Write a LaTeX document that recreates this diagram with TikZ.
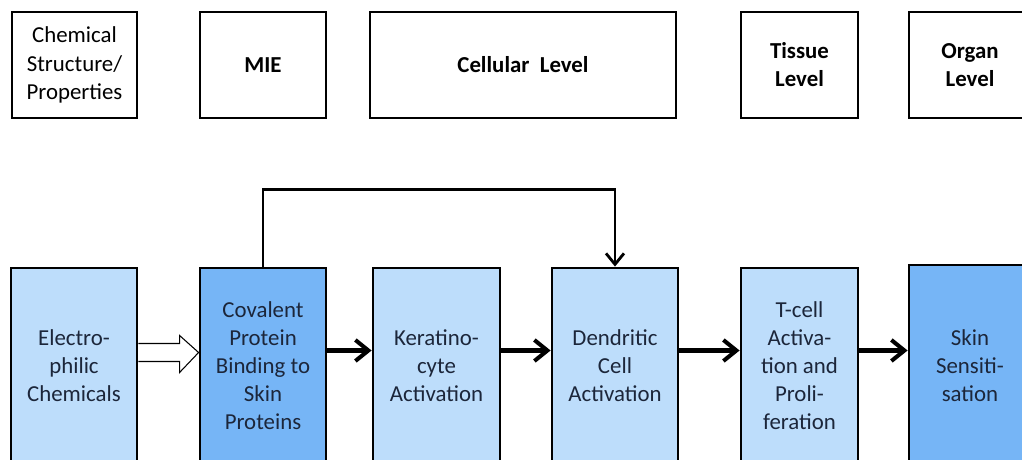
\documentclass[tikz,border=0pt]{standalone}
\usepackage{fontspec}
\setmainfont{Carlito}
\usepackage{xcolor}
\usepackage{tikz}
\usetikzlibrary{arrows.meta, positioning, calc}
\definecolor{stagelight}{RGB}{189, 221, 251}
\definecolor{stagedark}{RGB}{118, 181, 246}
\definecolor{stagetext}{RGB}{28, 38, 58}

\begin{document}
\begin{tikzpicture}[
    levelbox/.style={draw=black, line width=1.6pt, fill=white, minimum height=2.12cm,
                     align=center, font=\fontsize{13}{16}\selectfont},
    stagebox/.style={draw=black, line width=1.6pt, fill=stagelight, minimum height=3.9cm,
                     align=center, text=stagetext, font=\fontsize{13}{16}\selectfont},
    flowarrow/.style={line width=2.3pt, -{Straight Barb[length=2.6mm, width=4.2mm]}}
  ]
  \clip (0,0) rectangle (20.44,9.18);
  % level headings
  \node[levelbox, minimum width=2.5cm]  (chem)   at ( 1.49,7.88) {Chemical\\Structure/\\Properties};
  \node[levelbox, minimum width=2.52cm] (mie)    at ( 5.26,7.88) {\textbf{MIE}};
  \node[levelbox, minimum width=6.12cm] (cell)   at (10.46,7.88) {\textbf{Cellular\ \ Level}};
  \node[levelbox, minimum width=2.34cm] (tissue) at (15.99,7.88) {\textbf{Tissue}\\\textbf{Level}};
  \node[levelbox, minimum width=2.44cm] (organ)  at (19.40,7.88) {\textbf{Organ}\\\textbf{Level}};
  % key events
  \node[stagebox, minimum width=2.52cm] (elec)  at ( 1.48,1.87) {Electro-\\philic\\Chemicals};
  \node[stagebox, fill=stagedark, minimum width=2.52cm] (cov) at ( 5.26,1.87)
       {Covalent\\Protein\\Binding to\\Skin\\Proteins};
  \node[stagebox, minimum width=2.54cm] (ker)   at ( 8.73,1.87) {Keratino-\\cyte\\Activation};
  \node[stagebox, minimum width=2.52cm] (den)   at (12.30,1.87) {Dendritic\\Cell\\Activation};
  \node[stagebox, minimum width=2.34cm] (tcell) at (15.99,1.87) {T-cell\\Activa-\\tion and\\Proli-\\feration};
  \node[stagebox, fill=stagedark, minimum width=2.44cm, minimum height=4.02cm] (skin) at (19.40,1.87)
       {Skin\\Sensiti-\\sation};
  % hollow arrow into the MIE
  \draw[line width=0.6pt, fill=white]
    ([yshift=0.44cm]elec.east) -- ($(cov.west)+(-0.38,0.44)$) -- ($(cov.west)+(-0.38,0.6)$)
    -- ([yshift=0.26cm]cov.west) -- ($(cov.west)+(-0.38,-0.14)$) -- ($(cov.west)+(-0.38,0.08)$)
    -- ([yshift=0.08cm]elec.east);
  % pathway arrows
  \draw[flowarrow] ([yshift=0.3cm]cov.east)   -- ([yshift=0.3cm]ker.west);
  \draw[flowarrow] ([yshift=0.3cm]ker.east)   -- ([yshift=0.3cm]den.west);
  \draw[flowarrow] ([yshift=0.3cm]den.east)   -- ([yshift=0.3cm]tcell.west);
  \draw[flowarrow] ([yshift=0.3cm]tcell.east) -- ([yshift=0.3cm]skin.west);
  \draw[line width=1.6pt, -{Straight Barb[length=2.2mm, width=3.6mm]}]
    (cov.north) -- ++(0,1.54) -| (den.north);
\end{tikzpicture}
\end{document}
